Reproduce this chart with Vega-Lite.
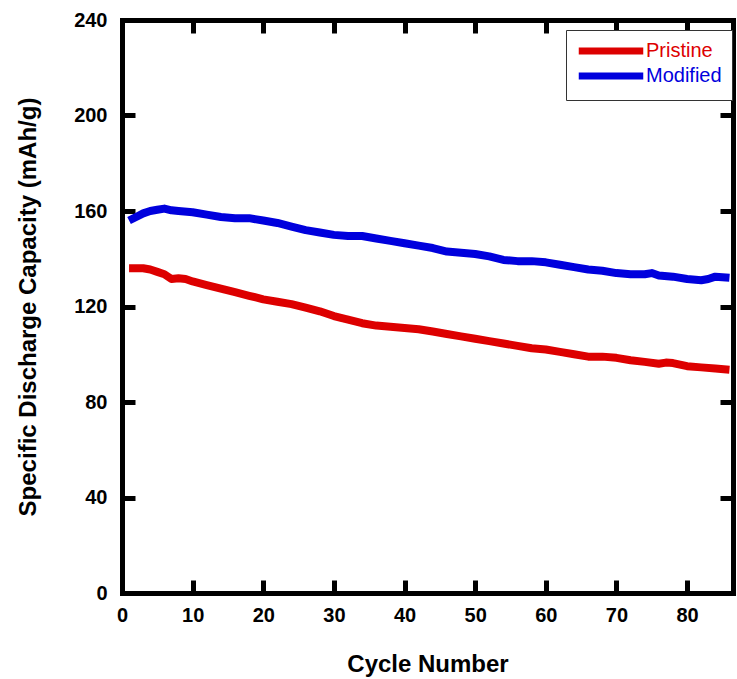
{
  "$schema": "https://vega.github.io/schema/vega-lite/v6.json",
  "autosize": "none",
  "width": 611,
  "height": 573,
  "padding": {"left": 122, "top": 20, "right": 4, "bottom": 86},
  "background": "white",
  "config": {
    "view": {"stroke": null},
    "font": "Liberation Sans"
  },
  "datasets": {
    "curves": [
      {"cycle": 1, "capacity": 136, "sample": "Pristine"},
      {"cycle": 2, "capacity": 136, "sample": "Pristine"},
      {"cycle": 3, "capacity": 136, "sample": "Pristine"},
      {"cycle": 4, "capacity": 135.5, "sample": "Pristine"},
      {"cycle": 5, "capacity": 134.5, "sample": "Pristine"},
      {"cycle": 6, "capacity": 133.5, "sample": "Pristine"},
      {"cycle": 7, "capacity": 131.5, "sample": "Pristine"},
      {"cycle": 8, "capacity": 131.8, "sample": "Pristine"},
      {"cycle": 9, "capacity": 131.5, "sample": "Pristine"},
      {"cycle": 10, "capacity": 130.5, "sample": "Pristine"},
      {"cycle": 12, "capacity": 129, "sample": "Pristine"},
      {"cycle": 14, "capacity": 127.5, "sample": "Pristine"},
      {"cycle": 16, "capacity": 126, "sample": "Pristine"},
      {"cycle": 18, "capacity": 124.5, "sample": "Pristine"},
      {"cycle": 20, "capacity": 123, "sample": "Pristine"},
      {"cycle": 22, "capacity": 122, "sample": "Pristine"},
      {"cycle": 24, "capacity": 121, "sample": "Pristine"},
      {"cycle": 26, "capacity": 119.5, "sample": "Pristine"},
      {"cycle": 28, "capacity": 118, "sample": "Pristine"},
      {"cycle": 30, "capacity": 116, "sample": "Pristine"},
      {"cycle": 32, "capacity": 114.5, "sample": "Pristine"},
      {"cycle": 34, "capacity": 113, "sample": "Pristine"},
      {"cycle": 36, "capacity": 112, "sample": "Pristine"},
      {"cycle": 38, "capacity": 111.5, "sample": "Pristine"},
      {"cycle": 40, "capacity": 111, "sample": "Pristine"},
      {"cycle": 42, "capacity": 110.5, "sample": "Pristine"},
      {"cycle": 44, "capacity": 109.5, "sample": "Pristine"},
      {"cycle": 46, "capacity": 108.5, "sample": "Pristine"},
      {"cycle": 48, "capacity": 107.5, "sample": "Pristine"},
      {"cycle": 50, "capacity": 106.5, "sample": "Pristine"},
      {"cycle": 52, "capacity": 105.5, "sample": "Pristine"},
      {"cycle": 54, "capacity": 104.5, "sample": "Pristine"},
      {"cycle": 56, "capacity": 103.5, "sample": "Pristine"},
      {"cycle": 58, "capacity": 102.5, "sample": "Pristine"},
      {"cycle": 60, "capacity": 102, "sample": "Pristine"},
      {"cycle": 62, "capacity": 101, "sample": "Pristine"},
      {"cycle": 64, "capacity": 100, "sample": "Pristine"},
      {"cycle": 66, "capacity": 99, "sample": "Pristine"},
      {"cycle": 68, "capacity": 99, "sample": "Pristine"},
      {"cycle": 70, "capacity": 98.5, "sample": "Pristine"},
      {"cycle": 72, "capacity": 97.5, "sample": "Pristine"},
      {"cycle": 74, "capacity": 96.8, "sample": "Pristine"},
      {"cycle": 76, "capacity": 96, "sample": "Pristine"},
      {"cycle": 77, "capacity": 96.5, "sample": "Pristine"},
      {"cycle": 78, "capacity": 96.3, "sample": "Pristine"},
      {"cycle": 80, "capacity": 95, "sample": "Pristine"},
      {"cycle": 82, "capacity": 94.5, "sample": "Pristine"},
      {"cycle": 84, "capacity": 94, "sample": "Pristine"},
      {"cycle": 86, "capacity": 93.5, "sample": "Pristine"},
      {"cycle": 1, "capacity": 156, "sample": "Modified"},
      {"cycle": 2, "capacity": 157.5, "sample": "Modified"},
      {"cycle": 3, "capacity": 159, "sample": "Modified"},
      {"cycle": 4, "capacity": 160, "sample": "Modified"},
      {"cycle": 5, "capacity": 160.5, "sample": "Modified"},
      {"cycle": 6, "capacity": 161, "sample": "Modified"},
      {"cycle": 7, "capacity": 160.3, "sample": "Modified"},
      {"cycle": 8, "capacity": 160, "sample": "Modified"},
      {"cycle": 10, "capacity": 159.5, "sample": "Modified"},
      {"cycle": 12, "capacity": 158.5, "sample": "Modified"},
      {"cycle": 14, "capacity": 157.5, "sample": "Modified"},
      {"cycle": 16, "capacity": 157, "sample": "Modified"},
      {"cycle": 18, "capacity": 157, "sample": "Modified"},
      {"cycle": 20, "capacity": 156, "sample": "Modified"},
      {"cycle": 22, "capacity": 155, "sample": "Modified"},
      {"cycle": 24, "capacity": 153.5, "sample": "Modified"},
      {"cycle": 26, "capacity": 152, "sample": "Modified"},
      {"cycle": 28, "capacity": 151, "sample": "Modified"},
      {"cycle": 30, "capacity": 150, "sample": "Modified"},
      {"cycle": 32, "capacity": 149.5, "sample": "Modified"},
      {"cycle": 34, "capacity": 149.5, "sample": "Modified"},
      {"cycle": 36, "capacity": 148.5, "sample": "Modified"},
      {"cycle": 38, "capacity": 147.5, "sample": "Modified"},
      {"cycle": 40, "capacity": 146.5, "sample": "Modified"},
      {"cycle": 42, "capacity": 145.5, "sample": "Modified"},
      {"cycle": 44, "capacity": 144.5, "sample": "Modified"},
      {"cycle": 46, "capacity": 143, "sample": "Modified"},
      {"cycle": 48, "capacity": 142.5, "sample": "Modified"},
      {"cycle": 50, "capacity": 142, "sample": "Modified"},
      {"cycle": 52, "capacity": 141, "sample": "Modified"},
      {"cycle": 54, "capacity": 139.5, "sample": "Modified"},
      {"cycle": 56, "capacity": 139, "sample": "Modified"},
      {"cycle": 58, "capacity": 139, "sample": "Modified"},
      {"cycle": 60, "capacity": 138.5, "sample": "Modified"},
      {"cycle": 62, "capacity": 137.5, "sample": "Modified"},
      {"cycle": 64, "capacity": 136.5, "sample": "Modified"},
      {"cycle": 66, "capacity": 135.5, "sample": "Modified"},
      {"cycle": 68, "capacity": 135, "sample": "Modified"},
      {"cycle": 70, "capacity": 134, "sample": "Modified"},
      {"cycle": 72, "capacity": 133.5, "sample": "Modified"},
      {"cycle": 74, "capacity": 133.5, "sample": "Modified"},
      {"cycle": 75, "capacity": 134, "sample": "Modified"},
      {"cycle": 76, "capacity": 133, "sample": "Modified"},
      {"cycle": 78, "capacity": 132.5, "sample": "Modified"},
      {"cycle": 80, "capacity": 131.5, "sample": "Modified"},
      {"cycle": 82, "capacity": 131, "sample": "Modified"},
      {"cycle": 83, "capacity": 131.5, "sample": "Modified"},
      {"cycle": 84, "capacity": 132.5, "sample": "Modified"},
      {"cycle": 86, "capacity": 132, "sample": "Modified"}
    ]
  },
  "data": {"name": "curves"},
  "resolve": {"axis": {"x": "independent", "y": "independent"}},
  "layer": [
    {
      "mark": {"type": "line", "strokeWidth": 8, "strokeJoin": "round", "strokeCap": "butt", "clip": true},
      "encoding": {
        "x": {
          "field": "cycle", "type": "quantitative",
          "scale": {"domain": [0, 86.5], "nice": false, "zero": false},
          "axis": {
            "title": "Cycle Number", "titleFontSize": 24, "titleFontWeight": "bold", "titleColor": "black", "titlePadding": 27,
            "values": [0, 10, 20, 30, 40, 50, 60, 70, 80],
            "labelFontSize": 20, "labelFontWeight": "bold", "labelColor": "black", "labelPadding": 25,
            "domainColor": "black", "domainWidth": 5, "tickColor": "black", "tickWidth": 5, "tickSize": -13,
            "grid": false, "labelFlush": false, "domainCap": "square"
          }
        },
        "y": {
          "field": "capacity", "type": "quantitative",
          "scale": {"domain": [0, 240], "nice": false},
          "axis": {
            "title": "Specific Discharge Capacity (mAh/g)", "titleFontSize": 24, "titleFontWeight": "bold", "titleColor": "black", "titlePadding": 33,
            "values": [0, 40, 80, 120, 160, 200, 240],
            "labelFontSize": 20, "labelFontWeight": "bold", "labelColor": "black", "labelPadding": 28,
            "domainColor": "black", "domainWidth": 5, "tickColor": "black", "tickWidth": 5, "tickSize": -13,
            "grid": false, "domainCap": "square"
          }
        },
        "color": {
          "field": "sample", "type": "nominal",
          "scale": {"domain": ["Pristine", "Modified"], "range": ["#dd0000", "#0000dd"]},
          "legend": {
            "title": null, "orient": "none", "legendX": 444, "legendY": 10,
            "symbolType": "M-4.3,0H4.3", "symbolSize": 225, "symbolStrokeWidth": 7,
            "symbolOffset": 24,
            "labelFontSize": 20, "labelOffset": 24, "rowPadding": -6,
            "labelExpr": "datum.label + ' '",
            "padding": 10, "strokeColor": "#333333", "fillColor": "white",
            "encode": {
              "labels": {"update": {"fill": {"signal": "datum.value === 'Pristine' ? '#dd0000' : '#0000dd'"}}}
            }
          }
        },
        "order": {"field": "cycle", "type": "quantitative"}
      }
    },
    {
      "mark": {"type": "point", "opacity": 0},
      "encoding": {
        "x": {
          "field": "cycle", "type": "quantitative",
          "axis": {"orient": "top", "title": null, "labels": false, "values": [0, 10, 20, 30, 40, 50, 60, 70, 80],
            "domainColor": "black", "domainWidth": 5, "tickColor": "black", "tickWidth": 5, "tickSize": -13, "grid": false, "domainCap": "square"}
        },
        "y": {
          "field": "capacity", "type": "quantitative",
          "axis": {"orient": "right", "title": null, "labels": false, "values": [0, 40, 80, 120, 160, 200, 240],
            "domainColor": "black", "domainWidth": 5, "tickColor": "black", "tickWidth": 5, "tickSize": -13, "grid": false, "domainCap": "square"}
        }
      }
    }
  ]
}
